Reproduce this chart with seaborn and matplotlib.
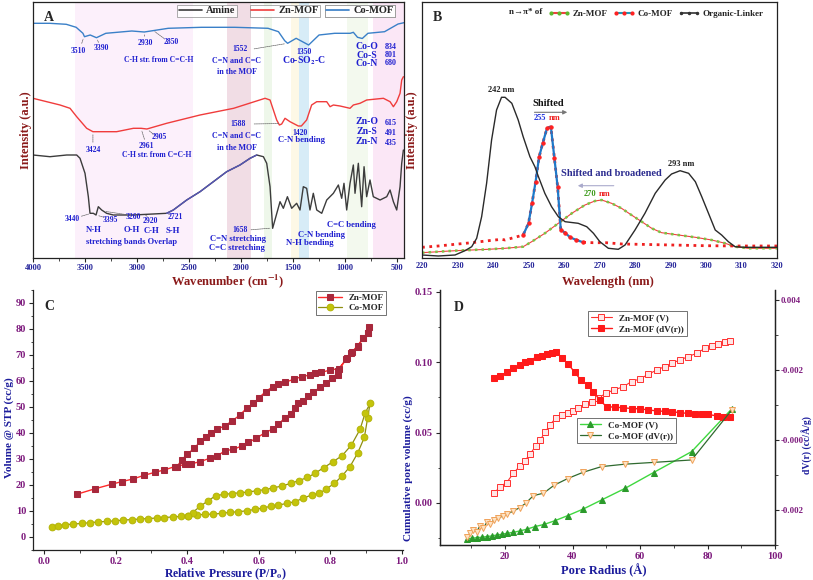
import numpy as np
import matplotlib
matplotlib.use("Agg")
import matplotlib.pyplot as plt
import seaborn as sns
from matplotlib.lines import Line2D
from matplotlib.ticker import MultipleLocator, FormatStrFormatter

# ---------------- A: FTIR (offset traces, arbitrary units) ----------------
wn_co = [4000, 3840, 3680, 3585, 3520, 3505, 3450, 3390, 3300, 3050, 2930, 2700,
         2380, 2060, 1740, 1640, 1580, 1552, 1470, 1350, 1250, 1100, 950, 920,
         880, 834, 780, 620, 490, 433]
int_co = [234.7, 234.7, 233.7, 230.7, 224.7, 221.3, 223.0, 220.3, 224.7, 227.0,
          226.0, 229.7, 230.7, 230.7, 229.7, 226.3, 217.3, 214.7, 219.7, 213.0,
          223.0, 224.7, 224.7, 225.7, 220.7, 219.5, 224.7, 226.3, 234.0, 235.3]

wn_zn = [4000, 3740, 3644, 3580, 3484, 3424, 3196, 3035, 2961, 2905, 2715, 2394,
         2071, 1769, 1721, 1657, 1631, 1609, 1577, 1529, 1449, 1420, 1369, 1321,
         1272, 1176, 1144, 1112, 1048, 952, 920, 856, 792, 631, 567, 535, 503,
         471, 455, 439]
int_zn = [159.7, 153.0, 149.7, 141.3, 129.7, 126.3, 126.3, 129.7, 129.7, 129.0,
          134.7, 143.0, 149.7, 159.7, 158.0, 138.0, 133.0, 134.0, 139.7, 136.3,
          132.0, 132.0, 138.0, 153.0, 156.3, 156.3, 151.3, 153.0, 152.0, 149.7,
          153.0, 154.7, 158.0, 159.7, 156.3, 151.3, 156.3, 164.7, 178.0, 181.3]

wn_am = [4000, 3837, 3676, 3580, 3548, 3500, 3468, 3452, 3420, 3394, 3372, 3340,
         3292, 3228, 3035, 2715, 2651, 2522, 2394, 2266, 2138, 2010, 1913, 1849,
         1785, 1753, 1721, 1696, 1625, 1593, 1554, 1513, 1465, 1433, 1401, 1369,
         1337, 1305, 1272, 1224, 1176, 1112, 1064, 1032, 1010, 984, 952, 920, 904,
         872, 840, 817, 792, 760, 728, 663, 599, 567, 535, 503, 471, 455, 439]
int_am = [103.0, 101.3, 103.0, 103.0, 99.7, 84.7, 61.3, 44.7, 44.7, 43.0, 51.3,
          48.0, 44.7, 43.0, 43.0, 44.7, 48.0, 58.0, 66.3, 76.3, 86.3, 93.0, 99.7,
          103.0, 101.3, 94.7, 71.3, 29.7, 56.3, 49.7, 61.3, 49.7, 54.7, 48.0, 71.3,
          69.7, 48.0, 64.7, 48.0, 44.7, 58.0, 64.7, 73.0, 59.7, 74.7, 48.0, 74.7,
          93.0, 64.7, 94.7, 51.3, 91.3, 61.3, 78.0, 61.3, 58.0, 61.3, 68.0, 56.3,
          48.0, 71.3, 94.7, 108.0]

bands_A = [(3596, 2465, '#fcf0fb'), (2138, 1907, '#f1dde5'), (1776, 1705, '#eef7ea'),
           (1522, 1439, '#fdf8e6'), (1439, 1349, '#d7ecf7'), (984, 776, '#f3f9ee'),
           (727, 433, '#fbe7f6')]

# ---------------- B: UV-Vis ----------------
lam_link = [220, 224.6, 229.3, 232.1, 234, 235.4, 236.8, 238.2, 239.6, 241, 242.4,
            243.4, 245.3, 247.1, 248.5, 250.4, 251.8, 252.8, 254.6, 256.5, 258.4,
            260.3, 264, 266.4, 268.3, 270.1, 272.5, 275.3, 277.2, 280, 282.8, 285.7,
            288.5, 290.3, 292.7, 295.1, 297, 298.8, 300.7, 302.6, 304.4, 306.3,
            308.2, 311, 320]
int_link = [3, 2, 3, 7.3, 11.3, 19.7, 41.3, 74.7, 118, 148, 160.7, 160.7, 154.7,
            138, 121.3, 101.3, 91.3, 81.3, 64.7, 51.3, 41.3, 36.3, 34.7, 31.3, 24.7,
            16.3, 9.7, 8.7, 13, 28, 44.7, 64.7, 78, 84, 87.3, 84.7, 76.3, 61.3, 44.7,
            28, 23, 16.3, 11.3, 10.7, 10.7]

lam_co = [220, 224.6, 229.3, 234, 238.7, 242.4, 243.4, 246.2, 248.5, 250, 251, 252,
          253, 254, 255.2, 256.3, 257.3, 258.2, 259.1, 260.3, 261.7, 263.5, 265.4,
          268.2, 271.8, 276.4, 281, 290.3, 299.7, 309.1, 320]
int_co_b = [10.7, 12, 13.7, 15.3, 17.3, 18.7, 18, 20.7, 23, 34.7, 54.7, 76.3, 101.3,
            114.7, 129.7, 131.3, 99.7, 71.3, 28, 25.3, 20.7, 18, 15.7, 15.3, 15.3,
            14, 13.7, 13, 12.3, 12, 12]

lam_zn = [220, 224.6, 229.3, 234, 238.7, 243.4, 248.5, 250.9, 254.6, 258.4, 262.2,
          265.9, 268.7, 270.6, 273.4, 276.2, 279, 281.9, 284.7, 287.5, 292.2, 297,
          301.6, 305.4, 308.2, 311.9, 320]
int_zn_b = [5.3, 6.3, 7.3, 8, 8.7, 9.7, 11.3, 16.3, 24.7, 34.7, 44.7, 53, 57, 58,
            54.7, 49.7, 43, 36.3, 29.7, 25.3, 23, 20.7, 18, 14.7, 11.3, 9.7, 9.7]

# ---------------- C: N2 isotherms ----------------
p_zn = [0.093, 0.141, 0.189, 0.217, 0.248, 0.279, 0.310, 0.336, 0.366, 0.394, 0.410,
        0.436, 0.464, 0.484, 0.506, 0.529, 0.552, 0.571, 0.592, 0.617, 0.639, 0.655,
        0.673, 0.689, 0.701, 0.710, 0.724, 0.738, 0.752, 0.771, 0.788, 0.804, 0.820,
        0.822, 0.845, 0.859, 0.876, 0.892, 0.904, 0.909,
        0.905, 0.892, 0.876, 0.860, 0.846, 0.824, 0.799, 0.774, 0.757, 0.743, 0.720,
        0.697, 0.673, 0.655, 0.639, 0.619, 0.601, 0.585, 0.566, 0.547, 0.526, 0.506,
        0.484, 0.466, 0.452, 0.437, 0.420, 0.399, 0.385, 0.371]
v_zn = [16.5, 18.5, 20.3, 21.3, 22.3, 23.7, 24.9, 25.8, 27.1, 27.9, 28.1, 29.0, 30.3,
        31.2, 33.2, 33.7, 35.0, 36.4, 37.9, 40.1, 41.5, 43.3, 45.9, 47.4, 49.7, 51.4,
        52.4, 54.4, 55.6, 57.6, 59.1, 61.0, 62.3, 64.0, 68.5, 70.6, 73.2, 76.4, 78.3,
        80.6,
        78.6, 76.5, 73.6, 71.0, 68.7, 64.8, 64.2, 63.3, 62.9, 62.3, 61.7, 60.6, 59.5,
        58.7, 57.8, 55.9, 53.6, 51.4, 49.5, 46.9, 44.7, 42.8, 41.5, 39.9, 38.6, 36.9,
        34.1, 31.8, 29.6, 27.1]

p_co = [0.021, 0.040, 0.059, 0.082, 0.105, 0.128, 0.152, 0.175, 0.198, 0.221, 0.245,
        0.268, 0.291, 0.315, 0.336, 0.359, 0.382, 0.401, 0.426, 0.450, 0.473, 0.496,
        0.520, 0.543, 0.566, 0.589, 0.613, 0.633, 0.655, 0.678, 0.701, 0.724, 0.748,
        0.769, 0.789, 0.811, 0.833, 0.855, 0.876, 0.895, 0.904, 0.911,
        0.897, 0.883, 0.859, 0.833, 0.808, 0.782, 0.757, 0.736, 0.712, 0.689, 0.664,
        0.641, 0.617, 0.594, 0.571, 0.547, 0.524, 0.503, 0.480, 0.459, 0.436, 0.415,
        0.403]
v_co = [4.0, 4.4, 4.7, 5.0, 5.2, 5.5, 5.8, 6.0, 6.2, 6.5, 6.7, 6.9, 7.1, 7.3, 7.5,
        7.7, 7.9, 8.1, 8.5, 8.7, 8.8, 9.1, 9.5, 9.7, 10.1, 10.6, 11.2, 11.8, 12.3, 12.9,
        13.6, 14.9, 16.2, 16.8, 18.5, 20.6, 23.5, 27.1, 32.2, 38.3, 45.6, 51.4,
        47.6, 41.4, 35.4, 31.3, 29.0, 26.7, 24.5, 22.9, 21.7, 20.6, 19.6, 18.9, 18.2,
        17.8, 17.3, 17.0, 16.7, 16.4, 15.9, 14.0, 11.8, 9.4, 8.1]

# ---------------- D: pore size distribution ----------------
r_znv = [16.8, 18.5, 20.5, 22.5, 24.4, 25.9, 27.4, 29.1, 30.4, 31.9, 33.3, 35.0, 36.8,
         38.8, 40.2, 41.7, 43.7, 45.7, 47.7, 49.8, 52.4, 55.1, 57.5, 60.0, 62.5, 65.0,
         67.4, 69.4, 71.9, 74.3, 76.8, 79.3, 81.2, 83.2, 85.2, 86.7]
v_znv = [0.0069, 0.0116, 0.0145, 0.0211, 0.0263, 0.0301, 0.0346, 0.0405, 0.0448,
         0.0503, 0.0555, 0.0602, 0.0626, 0.0642, 0.0654, 0.0678, 0.0702, 0.0721,
         0.0744, 0.0780, 0.0804, 0.0827, 0.0863, 0.0882, 0.0915, 0.0946, 0.0970,
         0.0993, 0.1017, 0.1041, 0.1064, 0.1100, 0.1118, 0.1130, 0.1143, 0.1148]

r_zndv = [16.8, 18.5, 20.5, 22.5, 24.4, 25.9, 27.4, 29.4, 30.9, 32.3, 33.8, 35.0, 36.8,
          38.8, 40.7, 42.5, 44.5, 46.2, 48.1, 50.1, 52.6, 55.1, 57.5, 60.0, 62.5, 65.0,
          67.4, 69.4, 71.9, 74.3, 76.3, 78.3, 80.2, 82.7, 84.7, 86.7]
d_zndv = [0.00178, 0.00184, 0.00193, 0.00205, 0.00214, 0.00224, 0.00226, 0.00238,
          0.00241, 0.00247, 0.00250, 0.00252, 0.00235, 0.00216, 0.00193, 0.00171,
          0.00157, 0.00138, 0.00114, 0.00095, 0.00094, 0.00092, 0.00090, 0.00089,
          0.00086, 0.00083, 0.00082, 0.00081, 0.00078, 0.00076, 0.00075, 0.00074,
          0.00073, 0.00069, 0.00067, 0.00065]

r_cov = [8.6, 10.1, 11.6, 13.1, 14.6, 16.0, 17.5, 19.0, 20.5, 22.5, 24.4, 26.4, 28.9,
         31.7, 34.8, 38.6, 43.2, 48.6, 55.6, 64.0, 75.3, 87.2]
v_cov = [-0.0256, -0.0251, -0.0247, -0.0244, -0.0239, -0.0235, -0.0228, -0.0223,
         -0.0216, -0.0209, -0.0199, -0.0187, -0.0168, -0.0152, -0.0126, -0.0090,
         -0.0043, 0.0021, 0.0104, 0.0216, 0.0365, 0.0669]

r_codv = [8.6, 9.6, 10.6, 11.6, 12.6, 13.6, 14.6, 15.6, 16.6, 18.0, 19.5, 20.5, 22.5,
          24.4, 26.1, 28.4, 31.4, 34.6, 38.6, 43.2, 48.6, 55.6, 64.0, 75.3, 87.2]
d_codv = [-0.00276, -0.00267, -0.00257, -0.00262, -0.00245, -0.00252, -0.00235,
          -0.00241, -0.00229, -0.00224, -0.00216, -0.00212, -0.00203, -0.00193,
          -0.00181, -0.00159, -0.00152, -0.00129, -0.00110, -0.00092, -0.00076,
          -0.00069, -0.00064, -0.00057, 0.00086]

# ---------------- style ----------------
sns.set_style("ticks")
plt.rcParams['font.family'] = ['Liberation Serif', 'DejaVu Serif']
plt.rcParams['font.weight'] = 'bold'
plt.rcParams['axes.labelweight'] = 'bold'
plt.rcParams['mathtext.fontset'] = 'stix'
plt.rcParams['axes.linewidth'] = 0.9
plt.rcParams['axes.edgecolor'] = '#222222'

DARKRED = '#8b1a1a'
NAVY = '#1c1c9c'
TICKBLUE = '#25259a'
PURPLE = '#7d1a7d'
ANNBLUE = '#1f1fd0'

W, H = 813, 580
fig = plt.figure(figsize=(W / 100, H / 100), dpi=100)


def px_axes(x0, y0, x1, y1):
    return fig.add_axes([x0 / W, 1 - y1 / H, (x1 - x0) / W, (y1 - y0) / H])


def line(ax, x, y, **kw):
    sns.lineplot(x=x, y=y, ax=ax, sort=False, estimator=None, legend=False, **kw)


# ================= Panel A =================
axA = px_axes(33, 2, 404, 258)
for lo, hi, c in bands_A:
    axA.axvspan(lo, hi, color=c, lw=0, zorder=0)

wn_am_a = np.array(wn_am)
int_am_a = np.array(int_am)
line(axA, wn_am, int_am, color='#3c3c3c', linewidth=1.0)
seg = (wn_am_a <= 2730) & (wn_am_a >= 1849)
line(axA, wn_am_a[seg], int_am_a[seg], color='#5555b5', linewidth=1.0)
line(axA, wn_zn, int_zn, color='#f03c3c', linewidth=1.0)
line(axA, wn_co, int_co, color='#3a80c8', linewidth=1.0)

axA.set_xlim(4000, 433)
axA.set_ylim(0, 256)
axA.set_yticks([])
axA.set_xticks(np.arange(500, 4001, 500))
axA.xaxis.set_minor_locator(MultipleLocator(250))
axA.tick_params(axis='x', which='major', labelsize=6, labelcolor=TICKBLUE, length=3, width=0.8, pad=1)
axA.tick_params(axis='x', which='minor', length=1.8, width=0.6)
axA.set_xlabel('Wavenumber (cm$^{\\mathbf{-1}}$)', color=DARKRED, fontsize=9)
axA.xaxis.set_label_coords(0.526, -0.055)
axA.set_ylabel('Intensity (a.u.)', color=DARKRED, fontsize=9)
axA.yaxis.set_label_coords(-0.004, 0.5)
axA.text(0.03, 0.965, 'A', transform=axA.transAxes, fontsize=10, va='top')

ann_A = [
    ('3510', 3564, 207, 5.5), ('3390', 3340, 209.5, 5.5), ('2930', 2923, 215, 5.5),
    ('2850', 2667, 216, 5.5), ('C-H str. from C=C-H', 2795, 198, 5.5),
    ('1552', 2010, 208.7, 5.5), ('C=N and C=C', 2042, 197.3, 5.8), ('in the MOF', 2042, 186.3, 5.8),
    ('1350', 1394, 206.3, 5.5), ('Co-SO$_\\mathbf{2}$-C', 1394, 197, 7),
    ('Co-O', 792, 211.3, 7), ('834', 561, 211.3, 5.8), ('Co-S', 792, 203, 7),
    ('801', 561, 203, 5.8), ('Co-N', 792, 194.7, 7), ('680', 561, 194.7, 5.8),
    ('3424', 3420, 108, 5.5), ('2961', 2907, 112, 5.5), ('2905', 2785, 120.7, 5.5),
    ('C-H str. from C=C-H', 2811, 103, 5.5),
    ('1588', 2026, 134, 5.5), ('C=N and C=C', 2042, 122, 5.8), ('in the MOF', 2042, 110.3, 5.8),
    ('1420', 1433, 124.7, 5.5), ('C-N bending', 1417, 118, 6.2),
    ('Zn-O', 792, 136.3, 7), ('615', 561, 134.7, 5.8), ('Zn-S', 792, 126.3, 7),
    ('491', 561, 124.7, 5.8), ('Zn-N', 792, 116.3, 7), ('435', 561, 114.7, 5.8),
    ('3440', 3619, 39, 5.5), ('3395', 3260, 38, 5.5), ('3260', 3035, 41.3, 5.5),
    ('2920', 2869, 37.3, 5.5), ('2721', 2635, 41.3, 5.5),
    ('N-H', 3420, 28, 6.2), ('O-H', 3051, 28, 6.2), ('C-H', 2859, 27.3, 6.2), ('S-H', 2657, 27.3, 6.2),
    ('stretching bands Overlap', 3051, 16.3, 6.0),
    ('1658', 2010, 28, 5.5), ('C=N stretching', 2026, 18.7, 6.2), ('C=C stretching', 2042, 9.7, 6.2),
    ('C-N bending', 1224, 23, 6.2), ('N-H bending', 1337, 14.7, 6.2), ('C=C bending', 936, 33, 6.2),
]
for t, x, y, fs in ann_A:
    axA.text(x, y, t, ha='center', va='center', fontsize=fs, color=ANNBLUE)

leaders_A = [((3510, 221.5), (3540, 212)), ((3390, 220.5), (3360, 213)),
             ((2930, 226.5), (2925, 219)), ((2850, 228), (2720, 218)),
             ((1552, 214.7), (1900, 208.7)), ((3424, 126), (3424, 113)),
             ((2961, 129.5), (2920, 116)), ((2905, 129), (2820, 122)),
             ((1610, 134.5), (1900, 134)), ((3440, 44.7), (3560, 41)),
             ((3395, 43), (3290, 40)), ((3330, 47), (3080, 43)),
             ((2920, 43), (2880, 40)), ((2721, 44.7), (2660, 43)),
             ((1696, 30), (1930, 28))]
for (x0, y0), (x1, y1) in leaders_A:
    axA.annotate('', xy=(x0, y0), xytext=(x1, y1),
                 arrowprops=dict(arrowstyle='-', color='#666666', lw=0.5, ls=(0, (2, 1))))


def boxed_legend(ax, handle, label, anchor, fs):
    leg = ax.legend([handle], [label], loc='upper right', bbox_to_anchor=anchor,
                    frameon=True, fancybox=False, edgecolor='#888888', fontsize=fs,
                    handlelength=2.2, borderpad=0.15, handletextpad=0.4, borderaxespad=0)
    leg.get_frame().set_linewidth(0.6)
    ax.add_artist(leg)


boxed_legend(axA, Line2D([], [], color='#3c3c3c', lw=1.2), 'Amine', (0.55, 0.99), 7.5)
boxed_legend(axA, Line2D([], [], color='#f03c3c', lw=1.2), 'Zn-MOF', (0.774, 0.99), 7.5)
boxed_legend(axA, Line2D([], [], color='#3a80c8', lw=1.2), 'Co-MOF', (0.976, 0.99), 7.5)

# ================= Panel B =================
axB = px_axes(422, 2, 777, 258)
line(axB, lam_zn, int_zn_b, color='#f04040', linewidth=0.8)
line(axB, lam_zn, int_zn_b, color='#7cc443', linewidth=1.8, linestyle=':')
line(axB, lam_co, int_co_b, color='#ee2020', linewidth=2.0, linestyle=':')
lam_co_a = np.array(lam_co)
int_co_a = np.array(int_co_b)
pk = (lam_co_a >= 248.5) & (lam_co_a <= 265.4)
line(axB, lam_co_a[pk], int_co_a[pk], color='#1f78c8', linewidth=1.6,
     marker='o', markersize=2.4, markerfacecolor='#ff2020', markeredgecolor='#ff2020')
line(axB, lam_link, int_link, color='#2a2a2a', linewidth=1.0)

axB.set_xlim(220, 320)
axB.set_ylim(0, 256)
axB.set_yticks([])
axB.set_xticks(np.arange(220, 321, 10))
axB.tick_params(axis='x', labelsize=6, labelcolor=TICKBLUE, length=0, pad=3)
axB.set_xlabel('Wavelength (nm)', color=DARKRED, fontsize=9)
axB.xaxis.set_label_coords(0.524, -0.072)
axB.set_ylabel('Intensity (a.u.)', color=DARKRED, fontsize=9)
axB.yaxis.set_label_coords(-0.012, 0.5)
axB.text(0.03, 0.965, 'B', transform=axB.transAxes, fontsize=10, va='top')

axB.text(242.4, 168, '242 nm', ha='center', va='center', fontsize=6, color='#222222')
axB.text(255.6, 154, 'Shifted', ha='center', va='center', fontsize=7.5, color='#111111')
axB.annotate('', xy=(261.7, 145.7), xytext=(250.9, 145.7),
             arrowprops=dict(arrowstyle='-|>', color='#777777', lw=0.8, mutation_scale=6))
axB.text(253.2, 139.7, '255', ha='center', va='center', fontsize=6, color='#2233dd')
axB.text(257.4, 139.7, 'nm', ha='center', va='center', fontsize=6, color='#ee2222')
axB.text(273.4, 84.7, 'Shifted and broadened', ha='center', va='center', fontsize=7.5, color='#2b2b8f')
axB.annotate('', xy=(263.1, 72.3), xytext=(274.8, 72.3),
             arrowprops=dict(arrowstyle='-|>', color='#aaaacc', lw=0.8, mutation_scale=6))
axB.text(267.3, 64, '270', ha='center', va='center', fontsize=6, color='#3c9a1a')
axB.text(271.5, 64, 'nm', ha='center', va='center', fontsize=6, color='#ee2222')
axB.text(293.1, 94, '293 nm', ha='center', va='center', fontsize=6, color='#222222')

axB.text(0.293, 0.962, 'n\u2192\u03c0* of', transform=axB.transAxes, ha='center', va='center',
         fontsize=6.5, color='#222222')
hB = [Line2D([], [], color='#f04040', lw=1.5, marker='o', markersize=2, markevery=[1],
             markerfacecolor='#5cb82c', markeredgecolor='#5cb82c'),
      Line2D([], [], color='#1f9ab8', lw=1.5, marker='o', markersize=2, markevery=[1],
             markerfacecolor='#ff2020', markeredgecolor='#ff2020'),
      Line2D([], [], color='#333333', lw=1.2, marker='o', markersize=1.5, markevery=[1])]
legB = axB.legend(hB, ['Zn-MOF', 'Co-MOF', 'Organic-Linker'], loc='upper right',
                  bbox_to_anchor=(0.985, 1.0), ncol=3, frameon=False, fontsize=6.5,
                  handlelength=2.4, columnspacing=0.6, handletextpad=0.3, numpoints=3)

# ================= Panel C =================
axC = px_axes(33, 290, 403, 550)
line(axC, p_zn, v_zn, color='#ff2a2a', linewidth=1.0, marker='s', markersize=5,
     markerfacecolor='#a8283c', markeredgecolor='#a8283c', label='Zn-MOF')
line(axC, p_co, v_co, color='#8f8f10', linewidth=0.9, marker='o', markersize=4.8,
     markerfacecolor='#c4c40a', markeredgecolor='#b5b50a', label='Co-MOF')
axC.set_xlim(-0.031, 1.003)
axC.set_ylim(-5, 95)
axC.set_xticks(np.arange(0, 1.01, 0.2))
axC.set_yticks(np.arange(0, 91, 10))
axC.xaxis.set_major_formatter(FormatStrFormatter('%.1f'))
axC.xaxis.set_minor_locator(MultipleLocator(0.1))
axC.yaxis.set_minor_locator(MultipleLocator(5))
axC.tick_params(which='major', labelsize=7.5, labelcolor=PURPLE, length=3, width=0.8, pad=2)
axC.tick_params(which='minor', length=1.8, width=0.6)
sns.despine(ax=axC)
axC.set_xlabel('Relative Pressure (P/P$_\\mathbf{o}$)', color=NAVY, fontsize=8.5)
axC.xaxis.set_label_coords(0.52, -0.062)
axC.set_ylabel('Volume @ STP (cc/g)', color=NAVY, fontsize=8)
axC.yaxis.set_label_coords(-0.05, 0.47)
axC.text(0.032, 0.96, 'C', transform=axC.transAxes, fontsize=10, va='top')
legC = axC.legend(loc='upper right', bbox_to_anchor=(0.955, 0.995), frameon=True,
                  fancybox=False, edgecolor='#333333', fontsize=6.5, handlelength=2.6,
                  borderpad=0.25, labelspacing=0.25, borderaxespad=0)
legC.get_frame().set_linewidth(0.6)

# ================= Panel D =================
axD = px_axes(440, 290, 775, 545)
axD2 = axD.twinx()
line(axD, r_znv, v_znv, color='#ff3030', linewidth=0.8, marker='s', markersize=3.8,
     markerfacecolor='#ffe6e6', markeredgecolor='#ff3030', markeredgewidth=0.7,
     label='Zn-MOF (V)')
line(axD2, r_zndv, d_zndv, color='#ff1a1a', linewidth=1.0, marker='s', markersize=4.6,
     markerfacecolor='#ff1a1a', markeredgecolor='#ff1a1a', label='Zn-MOF (dV(r))')
line(axD, r_cov, v_cov, color='#3fd83f', linewidth=1.0, marker='^', markersize=4.2,
     markerfacecolor='#2b9a2b', markeredgecolor='#2b9a2b', label='Co-MOF (V)')
line(axD2, r_codv, d_codv, color='#2f6a2f', linewidth=0.9, marker='v', markersize=4.6,
     markerfacecolor='#fde3c4', markeredgecolor='#f0a25a', markeredgewidth=0.7,
     label='Co-MOF (dV(r))')

axD.set_xlim(0.74, 100)
axD.set_ylim(-0.0299, 0.1514)
axD2.set_ylim(-0.003, 0.004286)
axD.set_xticks([20, 40, 60, 80, 100])
axD.xaxis.set_minor_locator(MultipleLocator(10))
axD.set_yticks([0.0, 0.05, 0.10, 0.15])
axD.yaxis.set_major_formatter(FormatStrFormatter('%.2f'))
axD.yaxis.set_minor_locator(MultipleLocator(0.025))
axD2.set_yticks([0.004, 0.002, 0.0, -0.002])
axD2.set_yticklabels(['0.004', '-0.002', '-0.000', '-0.002'])
axD2.yaxis.set_minor_locator(MultipleLocator(0.001))
for a in (axD, axD2):
    a.tick_params(which='major', labelsize=7.5, labelcolor=PURPLE, length=3, width=0.8, pad=2)
    a.tick_params(which='minor', length=1.8, width=0.6)
    a.spines['top'].set_visible(False)
axD2.tick_params(which='major', labelsize=6.3, pad=1)
axD.set_xlabel('Pore Radius (\u00c5)', color=NAVY, fontsize=9)
axD.xaxis.set_label_coords(0.49, -0.075)
axD.set_ylabel('Cumulative pore volume (cc/g)', color=NAVY, fontsize=8)
axD.yaxis.set_label_coords(-0.08, 0.30)
axD2.set_ylabel('dV(r) (cc/\u00c5/g)', color=NAVY, fontsize=7)
axD2.yaxis.set_label_coords(1.080, 0.39)
axD.text(0.04, 0.955, 'D', transform=axD.transAxes, fontsize=10, va='top')

h1, l1 = axD.get_legend_handles_labels()
h2, l2 = axD2.get_legend_handles_labels()
legD1 = axD2.legend([h1[0], h2[0]], [l1[0], l2[0]], loc='upper left',
                    bbox_to_anchor=(0.442, 0.918), frameon=True, fancybox=False,
                    edgecolor='#333333', fontsize=6.6, handlelength=2.3, borderpad=0.3,
                    labelspacing=0.3, borderaxespad=0)
legD1.get_frame().set_linewidth(0.6)
axD2.add_artist(legD1)
legD2 = axD2.legend([h1[1], h2[1]], [l1[1], l2[1]], loc='upper left',
                    bbox_to_anchor=(0.409, 0.498), frameon=True, fancybox=False,
                    edgecolor='#333333', fontsize=6.6, handlelength=2.3, borderpad=0.3,
                    labelspacing=0.3, borderaxespad=0)
legD2.get_frame().set_linewidth(0.6)

fig.savefig('out.png', dpi=100)
